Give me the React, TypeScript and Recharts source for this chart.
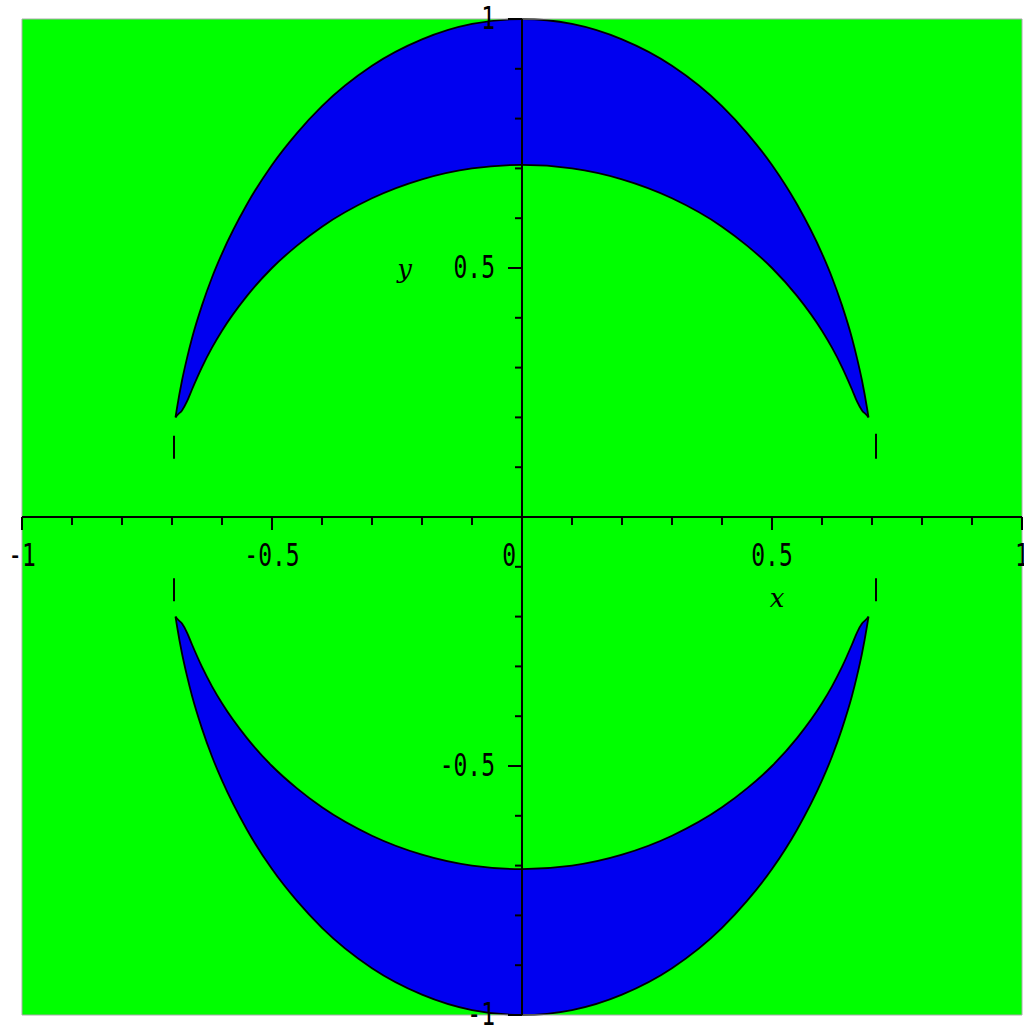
import React from "react";
import {
  Area,
  CartesianGrid,
  ComposedChart,
  ReferenceArea,
  ReferenceLine,
  Scatter,
  XAxis,
  YAxis,
} from "recharts";

// x positions sampled along the two crescents
const xs = [
  -0.693, -0.69, -0.68, -0.67, -0.66, -0.64, -0.62, -0.6, -0.55, -0.5, -0.45,
  -0.4, -0.3, -0.2, -0.1, 0, 0.1, 0.2, 0.3, 0.4, 0.45, 0.5, 0.55, 0.6, 0.62,
  0.64, 0.66, 0.67, 0.68, 0.69, 0.693,
];

// upper crescent
const upperOuter = [
  0.2, 0.219, 0.274, 0.319, 0.359, 0.425, 0.481, 0.529, 0.628, 0.707, 0.771,
  0.825, 0.906, 0.959, 0.99, 1, 0.99, 0.959, 0.906, 0.825, 0.771, 0.707, 0.628,
  0.529, 0.481, 0.425, 0.359, 0.319, 0.274, 0.219, 0.2,
];
const upperInner = [
  0.2, 0.204, 0.214, 0.232, 0.256, 0.301, 0.34, 0.374, 0.444, 0.5, 0.545,
  0.583, 0.64, 0.678, 0.7, 0.707, 0.7, 0.678, 0.64, 0.583, 0.545, 0.5, 0.444,
  0.374, 0.34, 0.301, 0.256, 0.232, 0.214, 0.204, 0.2,
];

// lower crescent
const lowerOuter = [
  -0.2, -0.219, -0.274, -0.319, -0.359, -0.425, -0.481, -0.529, -0.628, -0.707,
  -0.771, -0.825, -0.906, -0.959, -0.99, -1, -0.99, -0.959, -0.906, -0.825,
  -0.771, -0.707, -0.628, -0.529, -0.481, -0.425, -0.359, -0.319, -0.274,
  -0.219, -0.2,
];
const lowerInner = [
  -0.2, -0.204, -0.214, -0.232, -0.256, -0.301, -0.34, -0.374, -0.444, -0.5,
  -0.545, -0.583, -0.64, -0.678, -0.7, -0.707, -0.7, -0.678, -0.64, -0.583,
  -0.545, -0.5, -0.444, -0.374, -0.34, -0.301, -0.256, -0.232, -0.214, -0.204,
  -0.2,
];

// little vertical slivers near x = +-0.7
const slivers = [
  { x: -0.696, y1: 0.163, y2: 0.117 },
  { x: 0.708, y1: 0.167, y2: 0.117 },
  { x: -0.696, y1: -0.123, y2: -0.169 },
  { x: 0.708, y1: -0.123, y2: -0.169 },
];

const tickValues = [
  -1, -0.9, -0.8, -0.7, -0.6, -0.5, -0.4, -0.3, -0.2, -0.1, 0.1, 0.2, 0.3, 0.4,
  0.5, 0.6, 0.7, 0.8, 0.9, 1,
];
const majorTicks = [-1, -0.5, 0.5, 1];
const majorLabels = ["-1", "-0.5", "0.5", "1"];

const axisTitles = [
  { x: 0.51, y: -0.18, text: "x" },
  { x: -0.235, y: 0.48, text: "y" },
];

const data = xs.map((x, i) => ({
  x,
  upper: [upperInner[i], upperOuter[i]],
  lower: [lowerOuter[i], lowerInner[i]],
}));

const labelFor = (v: number) => {
  const i = majorTicks.indexOf(v);
  return i >= 0 ? majorLabels[i] : null;
};

const xTickData = [
  ...tickValues.map((v) => ({ x: v, y: 0, label: labelFor(v), origin: false })),
  { x: 0, y: 0, label: "0", origin: true },
];
const yTickData = tickValues.map((v) => ({ x: 0, y: v, label: labelFor(v) }));

const font = "'DejaVu Sans Mono', monospace";

const XTick = (props: any) => {
  const { cx, cy, payload } = props;
  const major = payload.label !== null;
  return (
    <g>
      {!payload.origin && (
        <line x1={cx} y1={cy} x2={cx} y2={cy + (major ? 13 : 8)} stroke="#000" strokeWidth={2} />
      )}
      {payload.label && (
        <g transform={`translate(${payload.origin ? cx - 6 : cx},${cy + 49}) scale(1,1.4)`}>
          <text textAnchor={payload.origin ? "end" : "middle"} fontFamily={font} fontSize={23} fill="#000">
            {payload.label}
          </text>
        </g>
      )}
    </g>
  );
};

const YTick = (props: any) => {
  const { cx, cy, payload } = props;
  const major = payload.label !== null;
  return (
    <g>
      <line x1={cx - (major ? 14 : 7)} y1={cy} x2={cx} y2={cy} stroke="#000" strokeWidth={2} />
      {payload.label && (
        <g transform={`translate(${cx - 27},${cy + 10}) scale(1,1.4)`}>
          <text textAnchor="end" fontFamily={font} fontSize={23} fill="#000">
            {payload.label}
          </text>
        </g>
      )}
    </g>
  );
};

const Title = (props: any) => {
  const { cx, cy, payload } = props;
  return (
    <text x={cx} y={cy} textAnchor="middle" fontFamily="'DejaVu Serif', serif" fontStyle="italic" fontSize={26} fill="#000">
      {payload.text}
    </text>
  );
};

export default function App() {
  return (
    <div style={{ position: "absolute", left: 0, top: 0, width: 1024, height: 1028, background: "#fff" }}>
      <ComposedChart
        width={1024}
        height={1028}
        data={data}
        margin={{ top: 19, right: 2, bottom: 13, left: 22 }}
      >
        <CartesianGrid horizontal={false} vertical={false} fill="#00ff00" fillOpacity={1} />
        <XAxis type="number" dataKey="x" domain={[-1, 1]} hide />
        <YAxis type="number" domain={[-1, 1]} hide />
        <Area
          type="monotone"
          dataKey="upper"
          stroke="#000"
          strokeWidth={1.8}
          fill="#0000f0"
          fillOpacity={1}
          isAnimationActive={false}
          dot={false}
          activeDot={false}
        />
        <Area
          type="monotone"
          dataKey="lower"
          stroke="#000"
          strokeWidth={1.8}
          fill="#0000f0"
          fillOpacity={1}
          isAnimationActive={false}
          dot={false}
          activeDot={false}
        />
        {slivers.map((s, i) => (
          <ReferenceLine
            key={i}
            segment={[
              { x: s.x, y: s.y1 },
              { x: s.x, y: s.y2 },
            ]}
            stroke="#000"
            strokeWidth={2}
          />
        ))}
        <ReferenceArea x1={-1} x2={1} y1={-1} y2={1} fill="none" stroke="#aaa" strokeWidth={1} />
        <ReferenceLine x={0} stroke="#000" strokeWidth={2} />
        <ReferenceLine y={0} stroke="#000" strokeWidth={2} />
        <Scatter data={xTickData} dataKey="y" shape={XTick} isAnimationActive={false} />
        <Scatter data={yTickData} dataKey="y" shape={YTick} isAnimationActive={false} />
        <Scatter data={axisTitles} dataKey="y" shape={Title} isAnimationActive={false} />
      </ComposedChart>
    </div>
  );
}
